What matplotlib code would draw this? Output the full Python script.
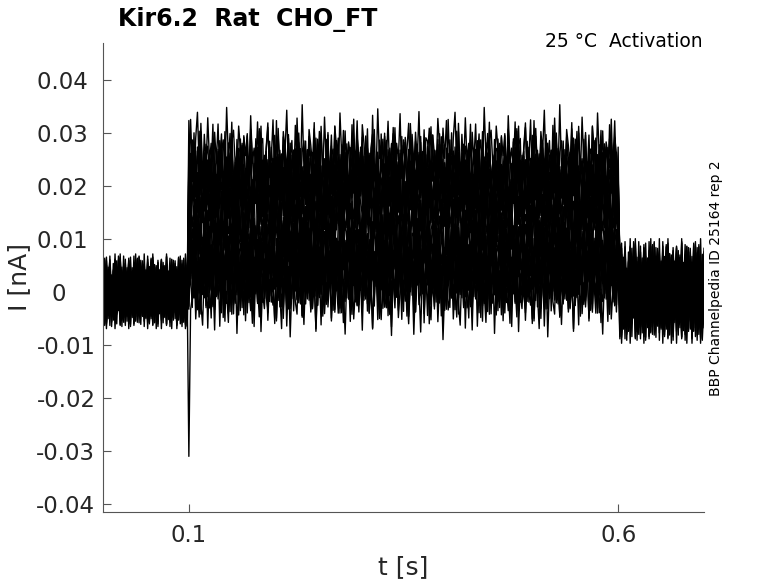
# Kir6.2 activation traces, all sweeps overlaid

import numpy as np
import matplotlib
matplotlib.use('Agg')
import matplotlib.pyplot as plt

# step amplitude of each sweep during the 0.1-0.6 s pulse (pA)
sweep_levels = [0, 1, 2, 3, 4, 5, 5, 6, 7, 8, 10, 12, 14, 15, 17, 18,
                19, 20, 21, 22, 23, 24, 26]
# start position of each sweep in the noise list
sweep_offsets = [0, 17, 41, 8, 93, 60, 125, 33, 77, 112, 5, 51, 139,
                 22, 98, 70, 131, 46, 14, 85, 119, 63, 104]
noise_pA = [
    1.2, -2.5, 3.8, -0.6, 4.9, -3.1, 0.7, -5.2, 2.4, 6.1,
    -1.8, 0.3, -4.0, 2.9, -2.2, 5.3, -0.9, 1.6, -6.3, 3.2,
    -1.1, 4.4, -3.7, 0.2, 2.1, -2.8, 6.8, -0.4, -4.6, 1.9,
    3.5, -1.5, -2.9, 4.1, 0.8, -5.8, 2.7, -0.2, 3.0, -3.4,
    5.6, -1.3, 0.9, -2.1, 4.7, -4.3, 1.4, 2.3, -6.9, 0.6,
    3.9, -2.6, -0.7, 5.0, -3.9, 1.1, 2.6, -1.7, -4.8, 3.3,
    0.4, 6.4, -2.3, -0.8, 2.0, -5.5, 4.2, -1.0, 1.7, -3.0,
    7.2, -2.0, 0.1, -4.4, 3.6, 1.3, -1.6, 4.6, -6.0, 2.2,
    -0.5, 3.1, -3.3, 5.4, -1.2, 0.5, -2.7, 2.8, -5.0, 4.0,
    1.0, -3.6, 6.0, -0.3, -2.4, 3.4, -4.1, 1.8, 0.0, -1.9,
    5.1, -3.8, 2.5, -0.1, -5.3, 4.3, 1.5, -2.2, 3.7, -6.5,
    0.9, 2.9, -1.4, -3.2, 6.6, -0.6, 1.2, -4.7, 2.6, -1.0,
    4.8, -2.9, 0.3, 3.0, -5.7, 1.6, -0.8, 5.9, -3.5, 2.1,
    -1.8, 0.7, 4.5, -4.2, 1.1, -2.5, 3.2, -0.9, 6.2, -3.0,
    0.4, -6.1, 2.4, 1.9, -1.1, 4.0, -3.9, 0.6, -2.0, 5.2,
]
# noise size before, during and after the pulse
noise_scale = [1.0, 1.3, 1.4]
# capacitive transient at pulse onset (sweep, pA)
spike_sweep = 0
spike_pA = -31.0

x_ticks = [0.1, 0.6]
x_labels = ['0.1', '0.6']
y_ticks = [-0.04, -0.03, -0.02, -0.01, 0, 0.01, 0.02, 0.03, 0.04]
y_labels = ['-0.04', '-0.03', '-0.02', '-0.01', '0', '0.01', '0.02', '0.03', '0.04']

t_on, t_off = 0.1, 0.6
dt = 0.002
t = np.arange(0, 351) * dt

fig = plt.figure(figsize=(7.78, 5.83), dpi=100)
ax = fig.add_axes([0.1324, 0.1218, 0.7725, 0.8044])

noise = np.array(noise_pA)
i_on = int(round(t_on / dt))
for k, (lev, off) in enumerate(zip(sweep_levels, sweep_offsets)):
    n = noise[(np.arange(len(t)) + off) % len(noise)]
    y = np.where(t < t_on, noise_scale[0] * n,
                 np.where(t <= t_off, lev + noise_scale[1] * n, noise_scale[2] * n))
    if k == spike_sweep:
        y[i_on] = spike_pA
    ax.plot(t, y / 1000, color='black', linewidth=1.0)

ax.set_xlim(0, 0.7)
ax.set_ylim(-0.0415, 0.047)
ax.set_xticks(x_ticks)
ax.set_xticklabels(x_labels)
ax.set_yticks(y_ticks)
# labels padded with trailing spaces like the original
ax.set_yticklabels([s.ljust(5) for s in y_labels])
ax.tick_params(direction='in', length=6, width=0.8, color='#555555',
               labelcolor='#262626', labelsize=16.4)
ax.tick_params(axis='y', pad=5.5)
ax.tick_params(axis='x', pad=9)
for s in ['top', 'right']:
    ax.spines[s].set_visible(False)
for s in ['left', 'bottom']:
    ax.spines[s].set_color('#555555')
    ax.spines[s].set_linewidth(0.8)

ax.set_xlabel('t [s]', fontsize=18, color='#262626', va='center')
ax.set_ylabel('I [nA]', fontsize=18, color='#262626', va='center')
ax.xaxis.set_label_coords(0.5, -0.117)
ax.yaxis.set_label_coords(-0.140, 0.501)

fig.text(0.152, 0.955, 'Kir6.2  Rat  CHO_FT', fontsize=17, fontweight='bold',
         ha='left', va='baseline')
fig.text(0.9036, 0.919, '25 °C  Activation', fontsize=13.5,
         ha='right', va='baseline')
fig.text(0.920, 0.523, 'BBP Channelpedia ID 25164 rep 2', fontsize=10,
         rotation=90, ha='center', va='center')

fig.savefig('out.png', dpi=100)
